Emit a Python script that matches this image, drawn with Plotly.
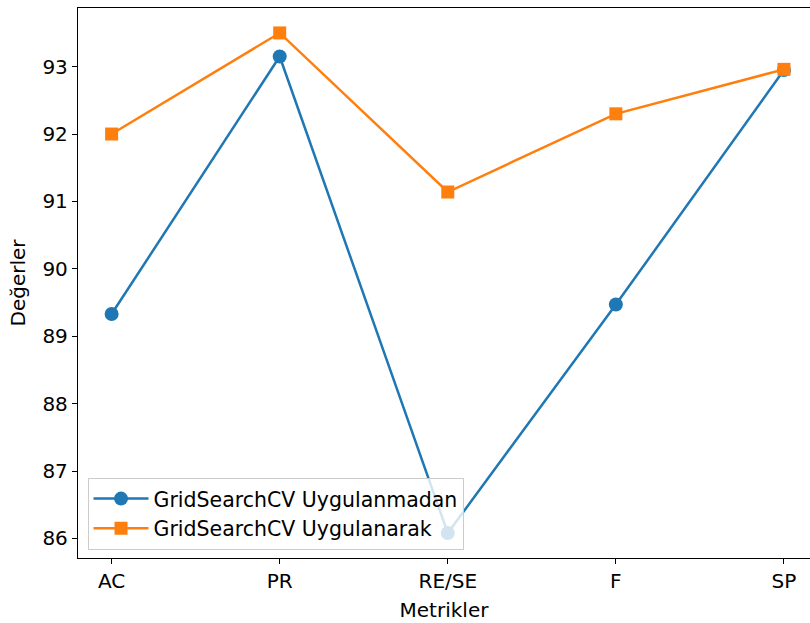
import plotly.graph_objects as go

categories = ["AC", "PR", "RE/SE", "F", "SP"]
without_gs = [89.33, 93.15, 86.08, 89.47, 92.95]
with_gs = [92.0, 93.5, 91.14, 92.3, 92.96]
y_ticks = [86, 87, 88, 89, 90, 91, 92, 93]

xi = list(range(len(categories)))
font = dict(family="DejaVu Sans", size=20, color="black")

fig = go.Figure()
fig.add_trace(go.Scatter(
    x=xi, y=without_gs, mode="lines+markers", name="GridSearchCV Uygulanmadan",
    line=dict(color="#1f77b4", width=2.5),
    marker=dict(symbol="circle", size=14, color="#1f77b4"),
))
fig.add_trace(go.Scatter(
    x=xi, y=with_gs, mode="lines+markers", name="GridSearchCV Uygulanarak",
    line=dict(color="#ff7f0e", width=2.5),
    marker=dict(symbol="square", size=13, color="#ff7f0e"),
))

fig.update_layout(
    width=810, height=623,
    margin=dict(l=78, r=0, t=8, b=65, autoexpand=False),
    plot_bgcolor="white", paper_bgcolor="white",
    font=font,
    showlegend=True,
    legend=dict(
        x=0.013, y=0.015, xanchor="left", yanchor="bottom",
        bgcolor="rgba(255,255,255,0.8)", bordercolor="#cccccc", borderwidth=1,
        font=dict(family="DejaVu Sans", size=20.5, color="black"),
        itemwidth=55, tracegroupgap=0,
    ),
    xaxis=dict(
        range=[-0.2, 4.155], tickmode="array", tickvals=xi, ticktext=categories,
        showgrid=False, zeroline=False, showline=True, linecolor="black", linewidth=1.3,
        mirror=True, ticks="outside", ticklen=5, tickwidth=1.3, tickcolor="black",
        title=dict(text="Metrikler", font=font, standoff=10),
        tickfont=font, automargin=False,
    ),
    yaxis=dict(
        range=[85.71, 93.87], tickmode="array", tickvals=y_ticks,
        ticktext=[str(v) for v in y_ticks],
        showgrid=False, zeroline=False, showline=True, linecolor="black", linewidth=1.3,
        mirror=False, ticks="outside", ticklen=5, tickwidth=1.3, tickcolor="black",
        title=dict(text="Değerler", font=font, standoff=11),
        tickfont=font, automargin=False,
    ),
)

fig.write_html(
    "out.html",
    config={"displayModeBar": False},
    post_script="document.body.style.margin='0';document.body.style.overflow='hidden';",
)
